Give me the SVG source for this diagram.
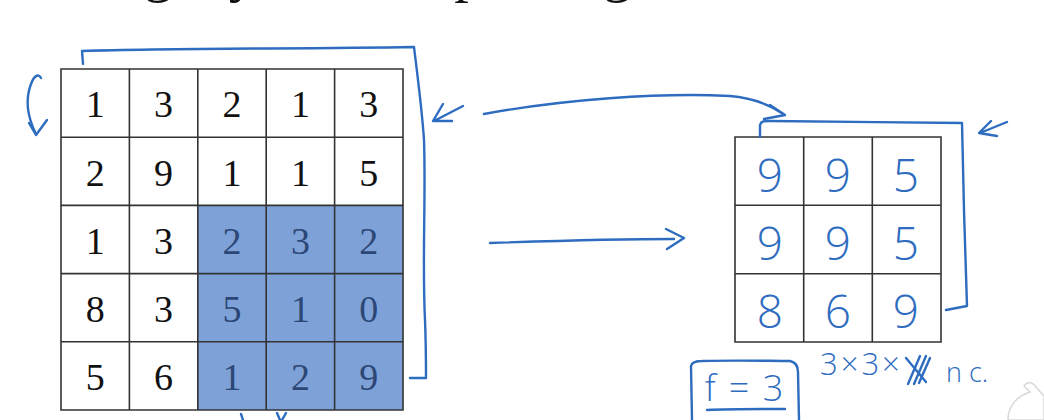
<svg xmlns="http://www.w3.org/2000/svg" width="1044" height="420" viewBox="0 0 1044 420">
<style>
.title{font-family:"Liberation Serif","DejaVu Serif",serif;font-size:58px;fill:#111}
.num{font-family:"Liberation Serif","DejaVu Serif",serif;font-size:38px;fill:#111;text-anchor:middle}
.numb{fill:#2c4775}
.grid{stroke:#333;stroke-width:1.6;fill:none}
.hand{font-family:"Open Sans","DejaVu Sans","Liberation Sans",sans-serif;font-weight:300;fill:#2e6cc0;text-anchor:middle}
.ink{stroke:#2e6cc0;stroke-width:2.4;fill:none;stroke-linecap:round;stroke-linejoin:round}
</style>
<rect width="1044" height="420" fill="#ffffff"/>
<text class="title" x="-8" y="-9">Pooling layer: Max pooling</text>

<g id="input-matrix">
<rect x="197.8" y="205.4" width="205.2" height="204.6" fill="#7ea2d8"/>
<path class="grid" d="M61,69H403V410H61Z M129.4,69V410 M197.8,69V410 M266.2,69V410 M334.6,69V410 M61,137.2H403 M61,205.4H403 M61,273.6H403 M61,341.8H403"/>
<g class="num">
<text x="95.2" y="117">1</text><text x="163.6" y="117">3</text><text x="232" y="117">2</text><text x="300.4" y="117">1</text><text x="368.8" y="117">3</text>
<text x="95.2" y="185.5">2</text><text x="163.6" y="185.5">9</text><text x="232" y="185.5">1</text><text x="300.4" y="185.5">1</text><text x="368.8" y="185.5">5</text>
<text x="95.2" y="253.5">1</text><text x="163.6" y="253.5">3</text><text class="numb" x="232" y="253.5">2</text><text class="numb" x="300.4" y="253.5">3</text><text class="numb" x="368.8" y="253.5">2</text>
<text x="95.2" y="321.7">8</text><text x="163.6" y="321.7">3</text><text class="numb" x="232" y="321.7">5</text><text class="numb" x="300.4" y="321.7">1</text><text class="numb" x="368.8" y="321.7">0</text>
<text x="95.2" y="390">5</text><text x="163.6" y="390">6</text><text class="numb" x="232" y="390">1</text><text class="numb" x="300.4" y="390">2</text><text class="numb" x="368.8" y="390">9</text>
</g>
</g>

<g id="output-matrix">
<path class="grid" d="M735,137H941V342H735Z M803.7,137V342 M872.3,137V342 M735,205.3H941 M735,273.7H941"/>
<g class="hand" font-size="46">
<text x="770" y="192">9</text><text x="838" y="192">9</text><text x="906" y="192">5</text>
<text x="770" y="260">9</text><text x="838" y="260">9</text><text x="906" y="260">5</text>
<text x="770" y="328">8</text><text x="838" y="328">6</text><text x="906" y="328">9</text>
</g>
</g>

<g id="connectors">
<path class="ink" d="M83,64 L82,51 C180,48 300,49 414,47 C418,80 422,110 424,140 C426,200 422,260 425,320 C426,345 426,362 426,378 L410,378"/>
<path class="ink" d="M41,78 C38,73 34,76 31,84 C26,97 26,114 36,134"/>
<path class="ink" d="M29,123 L36,135 L47,120"/>
<path class="ink" d="M463,106 L434,121 M443,104 L433,121 L452,121"/>
<path class="ink" d="M484,114 C560,100 660,92 730,96 C755,98 772,106 785,115 M770,105 L785,115 L764,119"/>
<path class="ink" d="M760,137 L760,125 C761,121 764,121 770,121 C830,122 900,122 962,123 C963,180 965,250 967,306 L946,310"/>
<path class="ink" d="M1007,122 L980,133 M991,121 L979,133 L997,136"/>
<path class="ink" d="M490,243 C550,241 620,239 674,239 M666,229 L684,238 L667,249"/>
<path class="ink" d="M241,414 L243,420 M277,413 L280,420 M286,413 L282,420" stroke-width="2"/>
</g>

<g id="f-label">
<path class="ink" d="M692,420 L691,366 C692,362 696,361 702,361 C740,360 770,361 790,361 C795,362 798,366 798,372 L799,420"/>
<text class="hand" x="745" y="401" font-size="36" letter-spacing="2">f = 3</text>
<path class="ink" d="M707,410 C730,409 760,409 785,409"/>
</g>

<g id="dims-label">
<text class="hand" x="820" y="375" font-size="31" letter-spacing="3" style="text-anchor:start">3×3×</text>
<path class="ink" d="M906,358 L926,382 M920,356 L908,384 M926,356 L914,384 M930,358 L919,383" stroke-width="2.2"/>
<text class="hand" x="946" y="382" font-size="27" style="text-anchor:start">n c.</text>
</g>

<path d="M1008,420 C1008,405 1018,396 1030,392 L1024,386 C1027,381 1033,382 1036,387 L1044,396 L1044,420 Z" fill="#ffffff" stroke="#d8d8d8" stroke-width="1.5"/>
</svg>
